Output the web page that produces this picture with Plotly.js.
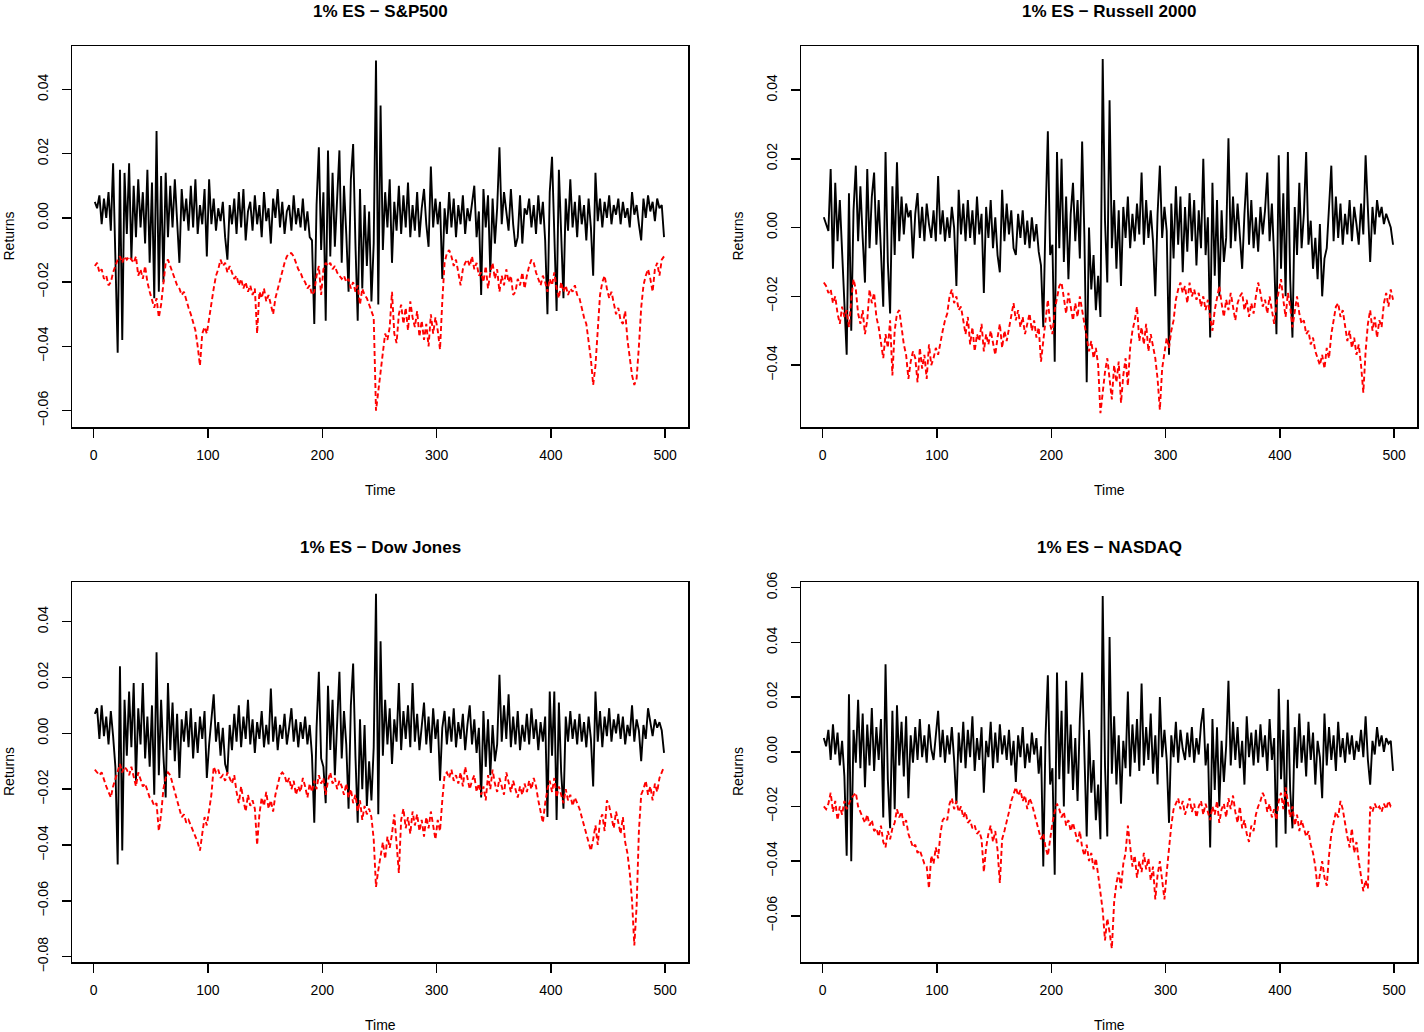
<!DOCTYPE html>
<html>
<head>
<meta charset="utf-8">
<script src="https://cdn.plot.ly/plotly-3.0.1.min.js"></script>
<style>
html,body{margin:0;padding:0;background:#ffffff;}
#chart{width:1424px;height:1032px;}
</style>
</head>
<body>
<div id="chart"></div>
<script>
const panelTitles = ["1% ES \u2212 S&P500", "1% ES \u2212 Russell 2000", "1% ES \u2212 Dow Jones", "1% ES \u2212 NASDAQ"];
const xAxisLabel = "Time";
const yAxisLabel = "Returns";
const timeTicks = [0, 100, 200, 300, 400, 500];
const spTicks = [-0.06, -0.04, -0.02, 0.00, 0.02, 0.04];
const ruTicks = [-0.04, -0.02, 0.00, 0.02, 0.04];
const djTicks = [-0.08, -0.06, -0.04, -0.02, 0.00, 0.02, 0.04];
const ndTicks = [-0.06, -0.04, -0.02, 0.00, 0.02, 0.04, 0.06];
const firstDay = 1, dayStep = 2;

const spReturns = [
0.005,0.003,0.007,-0.002,0.006,0.000,0.008,-0.004,0.017,-0.012,
-0.042,0.015,-0.038,0.014,-0.005,0.017,-0.013,0.010,-0.006,0.012,
-0.003,0.008,-0.008,0.015,-0.014,0.011,-0.025,0.027,-0.023,0.013,
-0.020,0.014,-0.006,0.010,-0.003,0.012,-0.002,-0.014,0.009,-0.001,
0.006,-0.004,0.010,-0.003,0.012,-0.005,0.004,-0.002,0.009,-0.012,
0.012,-0.002,0.006,-0.004,0.003,-0.001,0.005,-0.006,-0.013,0.004,
-0.002,0.006,-0.005,0.008,-0.003,0.009,-0.007,0.002,0.005,-0.004,
0.007,-0.002,0.004,-0.006,0.008,-0.001,0.003,-0.008,0.006,0.000,
0.009,-0.003,0.005,-0.005,0.002,0.004,-0.004,0.007,-0.002,0.003,
-0.003,0.006,-0.004,0.002,-0.006,-0.007,-0.033,0.004,0.022,-0.010,
0.008,-0.032,0.021,-0.012,0.014,-0.009,0.006,0.021,-0.014,0.010,
-0.005,-0.023,0.012,0.023,-0.008,-0.032,0.009,-0.022,0.004,-0.015,
0.002,-0.026,-0.008,0.049,-0.027,0.035,-0.010,0.008,-0.003,0.012,
-0.014,0.005,-0.004,0.010,-0.005,0.007,-0.003,0.011,-0.006,0.004,
-0.004,0.008,-0.006,0.003,0.009,-0.002,-0.009,0.016,-0.003,0.006,
-0.002,0.005,-0.019,0.003,-0.005,0.008,-0.003,0.006,-0.006,0.004,
-0.002,0.007,-0.005,0.003,-0.001,0.005,0.010,-0.006,0.002,-0.024,
0.009,-0.003,0.007,-0.017,0.006,-0.008,0.003,0.022,-0.002,0.008,
0.002,-0.004,0.009,-0.002,-0.009,-0.006,0.007,-0.008,0.003,0.001,
0.006,-0.003,0.004,-0.005,0.007,-0.002,0.005,-0.007,-0.030,0.008,
0.019,-0.005,-0.029,0.015,-0.008,-0.025,0.006,-0.004,0.012,-0.003,
0.005,-0.006,0.007,-0.002,0.004,-0.007,0.006,-0.003,-0.018,0.014,
-0.001,0.006,-0.003,0.005,0.000,0.007,-0.002,0.004,0.001,0.006,
-0.002,0.005,0.000,0.003,-0.003,0.008,0.001,0.004,-0.002,-0.007,
0.006,0.000,0.007,0.002,0.005,-0.001,0.006,0.003,0.004,-0.006];

const spES = [
-0.015,-0.014,-0.017,-0.016,-0.019,-0.018,-0.021,-0.020,-0.017,-0.015,
-0.013,-0.012,-0.014,-0.012,-0.013,-0.012,-0.013,-0.014,-0.012,-0.018,
-0.016,-0.019,-0.015,-0.020,-0.023,-0.026,-0.028,-0.025,-0.031,-0.027,
-0.020,-0.014,-0.013,-0.015,-0.017,-0.019,-0.021,-0.022,-0.024,-0.023,
-0.026,-0.028,-0.030,-0.033,-0.035,-0.040,-0.046,-0.036,-0.034,-0.036,
-0.031,-0.026,-0.022,-0.018,-0.016,-0.013,-0.015,-0.014,-0.017,-0.015,
-0.017,-0.019,-0.018,-0.021,-0.019,-0.022,-0.020,-0.023,-0.021,-0.024,
-0.022,-0.036,-0.023,-0.025,-0.022,-0.026,-0.024,-0.027,-0.030,-0.025,
-0.022,-0.019,-0.017,-0.014,-0.012,-0.011,-0.011,-0.012,-0.014,-0.016,
-0.017,-0.019,-0.020,-0.022,-0.021,-0.024,-0.023,-0.018,-0.015,-0.024,
-0.016,-0.014,-0.015,-0.014,-0.016,-0.015,-0.017,-0.018,-0.019,-0.018,
-0.020,-0.019,-0.022,-0.020,-0.023,-0.021,-0.027,-0.022,-0.024,-0.025,
-0.027,-0.029,-0.031,-0.060,-0.053,-0.048,-0.042,-0.036,-0.038,-0.034,
-0.023,-0.036,-0.039,-0.030,-0.027,-0.033,-0.028,-0.035,-0.026,-0.031,
-0.034,-0.029,-0.037,-0.032,-0.038,-0.033,-0.040,-0.030,-0.036,-0.031,
-0.035,-0.041,-0.026,-0.014,-0.011,-0.010,-0.012,-0.015,-0.013,-0.017,
-0.021,-0.016,-0.014,-0.013,-0.015,-0.012,-0.016,-0.014,-0.018,-0.017,
-0.020,-0.015,-0.022,-0.017,-0.014,-0.019,-0.016,-0.023,-0.018,-0.021,
-0.016,-0.020,-0.018,-0.024,-0.023,-0.019,-0.021,-0.017,-0.022,-0.018,
-0.015,-0.013,-0.014,-0.017,-0.019,-0.021,-0.018,-0.020,-0.023,-0.019,
-0.021,-0.017,-0.022,-0.025,-0.020,-0.023,-0.021,-0.024,-0.022,-0.023,
-0.021,-0.024,-0.025,-0.028,-0.031,-0.033,-0.038,-0.044,-0.052,-0.046,
-0.035,-0.024,-0.020,-0.018,-0.022,-0.025,-0.023,-0.027,-0.030,-0.028,
-0.032,-0.033,-0.029,-0.038,-0.044,-0.049,-0.052,-0.050,-0.040,-0.028,
-0.021,-0.018,-0.016,-0.019,-0.023,-0.016,-0.014,-0.018,-0.013,-0.012];

const ruReturns = [
0.003,0.001,-0.001,0.017,-0.012,0.013,-0.004,0.008,-0.006,-0.019,
-0.037,0.010,-0.030,0.005,0.018,-0.004,0.012,-0.003,-0.016,0.017,
-0.006,0.009,0.016,-0.005,0.008,-0.007,-0.023,0.022,-0.010,-0.025,
0.012,-0.008,0.019,-0.004,0.009,-0.002,0.007,0.003,0.005,-0.009,
0.004,0.010,-0.003,0.006,-0.004,0.007,0.001,-0.003,0.005,-0.004,
0.015,-0.002,0.005,-0.004,0.003,-0.003,0.006,0.000,-0.017,0.011,
-0.002,0.007,-0.004,0.008,-0.003,0.005,-0.005,0.009,-0.002,0.004,
-0.019,0.006,-0.003,0.008,-0.006,0.003,-0.008,-0.013,0.011,-0.004,
0.007,-0.002,0.005,-0.006,-0.008,0.004,-0.003,0.005,-0.005,0.002,
-0.006,0.003,-0.004,0.001,-0.007,-0.011,-0.029,0.003,0.028,-0.008,
-0.005,-0.039,0.022,-0.006,0.020,-0.010,0.009,-0.015,0.004,0.013,
-0.004,0.008,-0.009,0.025,-0.003,-0.045,0.000,-0.018,-0.008,-0.024,
-0.014,-0.026,0.049,0.002,-0.016,0.037,-0.006,0.008,-0.012,0.005,
-0.017,0.006,-0.003,0.009,-0.006,0.004,-0.004,0.007,-0.002,0.016,
-0.005,0.008,-0.003,0.005,-0.004,-0.020,0.004,0.018,-0.003,0.006,
-0.001,-0.037,0.007,-0.009,0.012,-0.005,0.009,-0.013,0.006,-0.007,
0.010,-0.004,0.008,-0.011,0.005,-0.006,0.020,-0.008,0.003,-0.032,
0.013,-0.014,0.008,-0.020,0.005,-0.010,-0.003,0.026,-0.006,0.009,
-0.004,0.007,-0.003,-0.012,0.004,0.016,-0.005,0.008,-0.006,0.003,
-0.007,0.006,-0.002,0.005,0.016,-0.004,0.007,-0.009,-0.031,0.021,
-0.012,0.010,-0.020,0.022,-0.015,-0.032,0.006,-0.008,0.013,-0.006,
0.004,0.022,-0.005,0.002,-0.012,-0.003,-0.015,0.001,-0.020,-0.009,
-0.006,0.005,0.018,-0.004,0.009,-0.003,0.007,-0.005,0.004,-0.002,
0.008,-0.004,0.006,0.001,-0.005,0.007,-0.002,0.021,0.003,-0.010,
0.006,-0.002,0.008,0.003,0.006,0.001,0.004,0.002,0.000,-0.005];

const ruES = [
-0.016,-0.017,-0.019,-0.018,-0.022,-0.020,-0.025,-0.028,-0.023,-0.026,
-0.024,-0.029,-0.021,-0.015,-0.018,-0.025,-0.028,-0.024,-0.031,-0.027,
-0.018,-0.022,-0.019,-0.026,-0.029,-0.033,-0.038,-0.031,-0.035,-0.027,
-0.043,-0.030,-0.025,-0.024,-0.029,-0.034,-0.037,-0.044,-0.039,-0.036,
-0.038,-0.045,-0.035,-0.041,-0.037,-0.044,-0.034,-0.040,-0.038,-0.035,
-0.037,-0.033,-0.030,-0.027,-0.025,-0.020,-0.018,-0.022,-0.020,-0.024,
-0.023,-0.027,-0.031,-0.026,-0.034,-0.029,-0.036,-0.031,-0.033,-0.028,
-0.036,-0.031,-0.034,-0.030,-0.033,-0.037,-0.032,-0.028,-0.035,-0.030,
-0.033,-0.029,-0.025,-0.022,-0.027,-0.024,-0.029,-0.026,-0.031,-0.028,
-0.025,-0.030,-0.027,-0.032,-0.029,-0.039,-0.033,-0.026,-0.021,-0.028,
-0.031,-0.024,-0.020,-0.017,-0.016,-0.021,-0.025,-0.019,-0.023,-0.027,
-0.022,-0.026,-0.020,-0.024,-0.028,-0.032,-0.036,-0.033,-0.038,-0.035,
-0.040,-0.054,-0.047,-0.042,-0.038,-0.044,-0.050,-0.040,-0.045,-0.039,
-0.051,-0.043,-0.038,-0.046,-0.035,-0.030,-0.027,-0.023,-0.033,-0.029,
-0.034,-0.028,-0.036,-0.031,-0.035,-0.038,-0.044,-0.053,-0.041,-0.036,
-0.032,-0.035,-0.030,-0.027,-0.021,-0.018,-0.016,-0.019,-0.017,-0.022,
-0.016,-0.020,-0.018,-0.021,-0.019,-0.023,-0.020,-0.024,-0.021,-0.026,
-0.030,-0.024,-0.020,-0.017,-0.022,-0.026,-0.021,-0.024,-0.019,-0.023,
-0.027,-0.022,-0.020,-0.019,-0.024,-0.021,-0.026,-0.022,-0.025,-0.020,
-0.016,-0.019,-0.023,-0.021,-0.025,-0.020,-0.024,-0.028,-0.022,-0.018,
-0.015,-0.021,-0.026,-0.019,-0.023,-0.029,-0.024,-0.020,-0.025,-0.028,
-0.027,-0.031,-0.030,-0.034,-0.032,-0.036,-0.038,-0.040,-0.037,-0.041,
-0.035,-0.038,-0.031,-0.027,-0.023,-0.022,-0.026,-0.024,-0.029,-0.033,
-0.030,-0.035,-0.032,-0.037,-0.034,-0.040,-0.048,-0.036,-0.028,-0.024,
-0.030,-0.026,-0.032,-0.027,-0.029,-0.022,-0.019,-0.023,-0.018,-0.021];

const djReturns = [
0.007,0.009,-0.002,0.010,-0.001,0.006,-0.004,0.008,-0.001,-0.012,
-0.047,0.024,-0.042,0.012,-0.008,0.015,-0.005,0.018,-0.017,0.009,
-0.004,0.018,-0.009,0.006,-0.012,0.010,-0.022,0.029,-0.015,0.012,
-0.008,-0.023,0.018,-0.006,0.011,-0.010,0.007,-0.016,0.005,-0.003,
0.008,-0.005,0.009,-0.009,0.004,-0.007,0.006,-0.002,0.008,-0.016,
-0.004,0.005,0.014,-0.003,0.004,-0.008,0.002,-0.011,-0.014,0.003,
-0.006,0.007,-0.003,0.010,-0.005,0.006,-0.002,0.012,-0.004,0.005,
-0.007,0.004,-0.002,0.008,-0.005,0.003,-0.004,0.016,-0.003,0.006,
-0.006,0.003,-0.002,0.007,-0.004,0.002,0.009,-0.003,0.005,-0.005,
0.004,-0.002,0.006,-0.004,0.003,-0.008,-0.032,0.002,0.022,-0.009,
-0.012,-0.025,0.017,-0.006,0.012,-0.015,0.006,0.022,-0.009,0.008,
-0.004,-0.027,0.010,0.025,-0.008,-0.032,0.005,-0.020,0.003,-0.026,
-0.010,-0.024,-0.005,0.050,-0.029,0.033,-0.008,0.012,-0.004,0.009,
-0.011,0.005,-0.003,0.018,-0.006,0.008,-0.002,0.010,-0.005,0.018,
-0.003,0.007,-0.006,0.004,0.011,-0.004,0.006,-0.007,0.009,-0.002,
0.005,-0.017,0.002,0.008,-0.004,0.006,-0.003,0.009,-0.005,0.004,
-0.002,0.007,-0.006,0.003,0.010,-0.004,0.005,-0.007,0.002,-0.023,
0.008,-0.012,0.005,-0.015,0.003,-0.010,-0.004,0.021,-0.003,0.010,
-0.002,0.014,-0.005,0.006,-0.004,0.008,-0.006,0.003,-0.003,0.007,
-0.004,0.009,-0.002,0.005,-0.006,0.004,-0.003,0.006,-0.030,0.015,
-0.008,0.015,-0.031,0.011,-0.014,-0.027,0.006,-0.003,0.008,-0.002,
0.005,-0.004,0.007,-0.003,0.004,-0.005,0.006,-0.002,-0.019,0.015,
-0.003,0.008,-0.005,0.006,-0.001,0.009,-0.003,0.005,0.000,0.007,
-0.002,0.006,-0.004,0.003,-0.001,0.010,-0.003,0.005,0.001,-0.010,
0.003,-0.002,0.009,0.004,-0.001,0.005,0.002,0.004,0.001,-0.007];

const djES = [
-0.013,-0.014,-0.015,-0.014,-0.017,-0.019,-0.021,-0.023,-0.019,-0.016,
-0.013,-0.011,-0.014,-0.012,-0.013,-0.015,-0.012,-0.016,-0.019,-0.014,
-0.017,-0.019,-0.018,-0.021,-0.023,-0.024,-0.026,-0.025,-0.035,-0.029,
-0.020,-0.016,-0.014,-0.015,-0.018,-0.021,-0.024,-0.027,-0.030,-0.029,
-0.032,-0.031,-0.033,-0.035,-0.037,-0.039,-0.042,-0.035,-0.030,-0.033,
-0.028,-0.022,-0.012,-0.014,-0.013,-0.016,-0.015,-0.017,-0.014,-0.016,
-0.018,-0.015,-0.021,-0.025,-0.019,-0.024,-0.028,-0.022,-0.026,-0.024,
-0.027,-0.040,-0.029,-0.023,-0.026,-0.021,-0.027,-0.024,-0.028,-0.022,
-0.019,-0.015,-0.014,-0.015,-0.018,-0.016,-0.020,-0.017,-0.022,-0.019,
-0.021,-0.016,-0.019,-0.023,-0.018,-0.021,-0.017,-0.020,-0.015,-0.018,
-0.016,-0.022,-0.017,-0.014,-0.018,-0.016,-0.020,-0.017,-0.019,-0.022,
-0.018,-0.023,-0.020,-0.025,-0.022,-0.028,-0.024,-0.031,-0.026,-0.029,
-0.027,-0.030,-0.038,-0.055,-0.049,-0.044,-0.039,-0.045,-0.037,-0.041,
-0.036,-0.029,-0.040,-0.050,-0.031,-0.027,-0.034,-0.030,-0.036,-0.028,
-0.033,-0.029,-0.035,-0.031,-0.037,-0.030,-0.034,-0.028,-0.033,-0.038,
-0.031,-0.035,-0.024,-0.015,-0.014,-0.016,-0.013,-0.017,-0.015,-0.018,
-0.014,-0.019,-0.012,-0.016,-0.020,-0.017,-0.015,-0.021,-0.018,-0.022,
-0.019,-0.024,-0.015,-0.020,-0.013,-0.018,-0.021,-0.016,-0.019,-0.022,
-0.014,-0.018,-0.021,-0.017,-0.020,-0.023,-0.019,-0.022,-0.018,-0.021,
-0.017,-0.020,-0.016,-0.019,-0.024,-0.028,-0.032,-0.025,-0.020,-0.017,
-0.021,-0.016,-0.023,-0.019,-0.022,-0.025,-0.020,-0.024,-0.022,-0.026,
-0.023,-0.025,-0.027,-0.030,-0.033,-0.037,-0.040,-0.042,-0.038,-0.033,
-0.040,-0.031,-0.029,-0.035,-0.024,-0.026,-0.030,-0.034,-0.028,-0.032,
-0.036,-0.030,-0.039,-0.043,-0.050,-0.060,-0.076,-0.062,-0.035,-0.022,
-0.020,-0.017,-0.022,-0.019,-0.024,-0.018,-0.021,-0.016,-0.014,-0.012];

const ndReturns = [
0.005,0.002,0.008,-0.003,0.010,-0.001,0.007,-0.005,0.004,-0.009,
-0.038,0.021,-0.040,0.008,-0.004,0.019,-0.006,0.014,-0.013,0.010,
-0.005,0.016,-0.007,0.009,-0.003,0.012,-0.024,0.032,-0.010,-0.028,
0.015,-0.021,0.017,-0.005,0.011,-0.009,0.013,-0.017,0.006,-0.004,
0.009,-0.003,0.012,-0.002,0.006,-0.004,0.010,0.001,-0.003,0.007,
0.015,-0.002,0.008,-0.004,0.006,-0.001,0.009,-0.003,-0.019,0.007,
-0.004,0.011,-0.006,0.008,-0.002,0.013,-0.007,0.005,-0.003,0.009,
-0.015,0.004,-0.002,0.011,-0.006,0.007,-0.004,0.010,-0.001,0.006,
-0.003,0.008,-0.005,0.004,-0.011,0.006,-0.002,0.009,-0.006,0.003,
-0.004,0.007,-0.001,0.005,-0.008,0.002,-0.042,0.006,0.028,-0.012,
-0.006,-0.045,0.029,-0.010,0.015,-0.020,0.026,-0.008,0.010,-0.014,
0.005,-0.018,0.012,0.029,-0.006,-0.031,0.008,-0.015,-0.003,-0.025,
-0.012,-0.032,0.057,-0.005,-0.031,0.042,-0.008,0.013,-0.012,0.006,
-0.019,0.004,-0.006,0.022,-0.009,0.010,-0.004,0.012,-0.007,0.025,
-0.005,0.009,-0.003,0.014,-0.008,0.006,-0.012,0.020,-0.002,0.008,
-0.003,-0.026,0.006,-0.002,0.011,-0.004,0.008,0.001,-0.003,0.007,
-0.002,0.009,-0.004,0.005,-0.001,0.010,0.016,-0.005,0.003,-0.035,
0.012,-0.014,0.009,-0.020,0.004,-0.011,0.002,0.026,-0.005,0.011,
-0.003,0.009,-0.006,0.004,-0.012,0.013,-0.002,0.007,-0.005,0.008,
-0.004,0.010,-0.002,0.006,-0.007,0.012,-0.003,0.005,-0.035,0.023,
-0.010,0.008,-0.030,0.019,-0.014,-0.028,0.009,-0.006,0.014,-0.004,
0.006,-0.009,0.011,-0.003,0.007,-0.012,0.004,-0.002,-0.017,0.014,
-0.005,0.009,-0.003,0.006,-0.007,0.011,-0.002,0.005,-0.004,0.007,
-0.001,0.006,-0.003,0.004,0.000,0.008,-0.002,0.013,-0.003,-0.012,
0.004,-0.001,0.009,0.002,0.006,0.000,0.005,0.003,0.004,-0.007];

const ndES = [
-0.020,-0.021,-0.019,-0.015,-0.022,-0.018,-0.025,-0.020,-0.023,-0.018,
-0.021,-0.019,-0.017,-0.016,-0.015,-0.020,-0.022,-0.024,-0.026,-0.023,
-0.027,-0.025,-0.029,-0.028,-0.031,-0.027,-0.033,-0.035,-0.029,-0.032,
-0.028,-0.026,-0.021,-0.024,-0.022,-0.027,-0.025,-0.030,-0.033,-0.035,
-0.034,-0.037,-0.036,-0.039,-0.041,-0.042,-0.050,-0.038,-0.041,-0.035,
-0.039,-0.030,-0.025,-0.024,-0.025,-0.019,-0.017,-0.021,-0.018,-0.022,
-0.020,-0.024,-0.022,-0.026,-0.025,-0.028,-0.027,-0.030,-0.029,-0.032,
-0.044,-0.035,-0.030,-0.027,-0.033,-0.029,-0.036,-0.048,-0.032,-0.029,
-0.026,-0.022,-0.018,-0.015,-0.013,-0.016,-0.014,-0.018,-0.016,-0.021,
-0.017,-0.019,-0.022,-0.025,-0.028,-0.032,-0.030,-0.035,-0.038,-0.031,
-0.026,-0.022,-0.019,-0.021,-0.024,-0.022,-0.027,-0.025,-0.029,-0.026,
-0.030,-0.033,-0.029,-0.035,-0.038,-0.034,-0.040,-0.037,-0.043,-0.039,
-0.045,-0.052,-0.058,-0.069,-0.061,-0.066,-0.072,-0.055,-0.048,-0.044,
-0.050,-0.041,-0.037,-0.027,-0.035,-0.042,-0.038,-0.046,-0.040,-0.044,
-0.037,-0.043,-0.039,-0.047,-0.042,-0.054,-0.045,-0.040,-0.047,-0.054,
-0.044,-0.035,-0.027,-0.021,-0.019,-0.017,-0.021,-0.018,-0.023,-0.020,
-0.017,-0.022,-0.019,-0.024,-0.020,-0.018,-0.023,-0.019,-0.022,-0.025,
-0.020,-0.023,-0.018,-0.026,-0.021,-0.019,-0.024,-0.017,-0.021,-0.016,
-0.022,-0.026,-0.020,-0.028,-0.025,-0.030,-0.033,-0.027,-0.029,-0.023,
-0.020,-0.018,-0.015,-0.017,-0.022,-0.019,-0.024,-0.021,-0.025,-0.018,
-0.015,-0.021,-0.013,-0.018,-0.024,-0.020,-0.027,-0.023,-0.029,-0.025,
-0.028,-0.031,-0.029,-0.034,-0.037,-0.042,-0.050,-0.044,-0.040,-0.046,
-0.049,-0.038,-0.030,-0.026,-0.022,-0.024,-0.018,-0.021,-0.027,-0.031,
-0.035,-0.028,-0.037,-0.033,-0.040,-0.045,-0.051,-0.047,-0.050,-0.020,
-0.022,-0.019,-0.021,-0.020,-0.022,-0.019,-0.021,-0.018,-0.020,-0.020];

// ---------- chart ----------
const FONT = "Liberation Sans, Arial, Helvetica, sans-serif";
const panels = [
  {title: panelTitles[0], ret: spReturns, es: spES, ticks: spTicks, yr: [-0.0651, 0.0535]},
  {title: panelTitles[1], ret: ruReturns, es: ruES, ticks: ruTicks, yr: [-0.0580, 0.0528]},
  {title: panelTitles[2], ret: djReturns, es: djES, ticks: djTicks, yr: [-0.0819, 0.0542]},
  {title: panelTitles[3], ret: ndReturns, es: ndES, ticks: ndTicks, yr: [-0.0769, 0.0621]}
];
const W = 1424, H = 1032;
const boxes = [ // plot boxes in px: left, right, top, bottom
  [72, 688, 46, 427], [801, 1417, 46, 427],
  [72, 688, 582, 962], [801, 1417, 582, 962]
];

const traces = [];
const layout = {
  width: W, height: H,
  margin: {l: 0, r: 0, t: 0, b: 0},
  paper_bgcolor: "#ffffff", plot_bgcolor: "#ffffff",
  showlegend: false,
  font: {family: FONT, size: 14, color: "#000000"},
  annotations: []
};

panels.forEach((p, i) => {
  const s = i === 0 ? "" : String(i + 1);
  const time = p.ret.map((_, k) => firstDay + dayStep * k);
  traces.push({
    x: time, y: p.ret, xaxis: "x" + s, yaxis: "y" + s,
    type: "scatter", mode: "lines", hoverinfo: "skip",
    line: {color: "#000000", width: 1.9}
  });
  traces.push({
    x: time, y: p.es, xaxis: "x" + s, yaxis: "y" + s,
    type: "scatter", mode: "lines", hoverinfo: "skip",
    line: {color: "#ff0000", width: 1.9, dash: "5px,3px"}
  });
  const b = boxes[i];
  const common = {
    showgrid: false, zeroline: false,
    showline: true, mirror: true, linecolor: "#000000", linewidth: 1.5,
    ticks: "outside", ticklen: 9, tickwidth: 1.5, tickcolor: "#000000",
    tickfont: {family: FONT, size: 14, color: "#000000"},
    tickmode: "array", fixedrange: true
  };
  layout["xaxis" + s] = Object.assign({}, common, {
    domain: [b[0] / W, b[1] / W], anchor: "y" + s,
    range: [-18.96, 519.96], tickvals: timeTicks,
    ticklabelstandoff: 6
  });
  layout["yaxis" + s] = Object.assign({}, common, {
    domain: [1 - b[3] / H, 1 - b[2] / H], anchor: "x" + s,
    range: p.yr, tickvals: p.ticks, tickformat: ".2f", tickangle: -90,
    ticklabelstandoff: 8
  });
  const cx = (b[0] + b[1]) / 2 / W;
  layout.annotations.push({
    text: p.title, xref: "paper", yref: "paper", x: cx, y: 1 - (b[2] - 35) / H,
    xanchor: "center", yanchor: "middle", showarrow: false,
    font: {family: FONT, size: 17, color: "#000000", weight: "bold"}
  });
  layout.annotations.push({
    text: xAxisLabel, xref: "paper", yref: "paper", x: cx, y: 1 - (b[3] + 63) / H,
    xanchor: "center", yanchor: "middle", showarrow: false,
    font: {family: FONT, size: 14, color: "#000000"}
  });
  layout.annotations.push({
    text: yAxisLabel, xref: "paper", yref: "paper", x: (b[0] - 63) / W, y: 1 - (b[2] + b[3]) / 2 / H,
    xanchor: "center", yanchor: "middle", textangle: -90, showarrow: false,
    font: {family: FONT, size: 14, color: "#000000"}
  });
});

Plotly.newPlot("chart", traces, layout, {displayModeBar: false, staticPlot: true});
</script>
</body>
</html>
